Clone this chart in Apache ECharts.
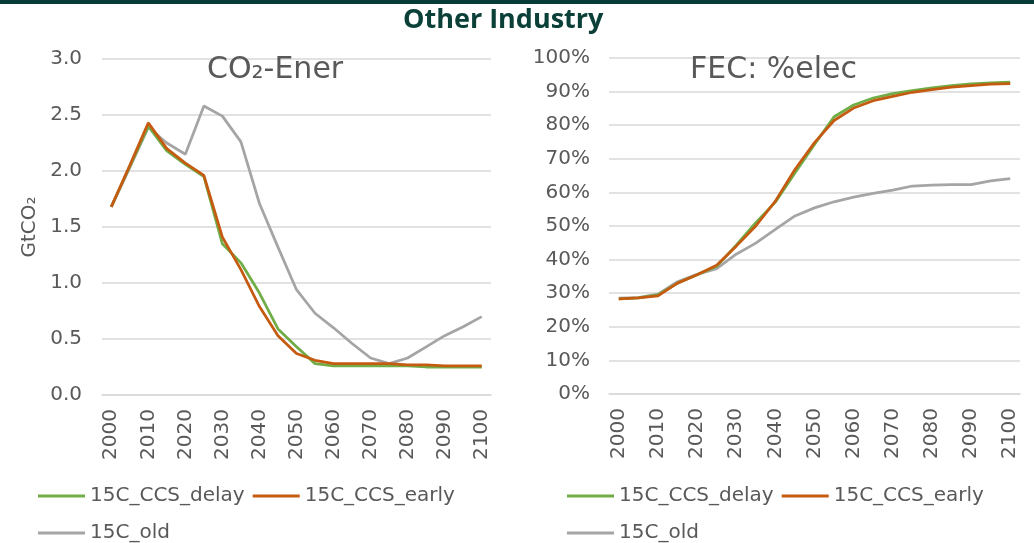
<!DOCTYPE html>
<html>
<head>
<meta charset="utf-8">
<script src="https://cdn.jsdelivr.net/npm/echarts@6/dist/echarts.min.js"></script>
<style>
  html, body { margin: 0; padding: 0; background: #fff; }
  #topbar { position: absolute; left: 0; top: 0; width: 1034px; height: 4px; background: #073b37; }
  #chart { width: 1034px; height: 543px; }
</style>
</head>
<body>
<div id="topbar"></div>
<div id="chart"></div>
<script>
// years 2000..2100 every 5 years
var years = ['2000', '2005', '2010', '2015', '2020', '2025', '2030', '2035', '2040', '2045', '2050',
  '2055', '2060', '2065', '2070', '2075', '2080', '2085', '2090', '2095', '2100'];
var seriesNames = ['15C_CCS_delay', '15C_CCS_early', '15C_old'];

// CO2-Ener, GtCO2
var co2Delay = [1.68, 2.04, 2.40, 2.18, 2.06, 1.95, 1.35, 1.18, 0.91, 0.59, 0.43,
  0.28, 0.26, 0.26, 0.26, 0.26, 0.26, 0.25, 0.25, 0.25, 0.25];
var co2Early = [1.68, 2.05, 2.43, 2.20, 2.07, 1.96, 1.41, 1.12, 0.79, 0.53, 0.37,
  0.31, 0.28, 0.28, 0.28, 0.28, 0.27, 0.27, 0.26, 0.26, 0.26];
var co2Old = [1.68, 2.03, 2.39, 2.25, 2.15, 2.58, 2.49, 2.26, 1.71, 1.32, 0.94,
  0.73, 0.60, 0.46, 0.33, 0.28, 0.33, 0.43, 0.53, 0.61, 0.70];

// FEC: %elec
var elecDelay = [28.3, 28.6, 29.5, 33.0, 35.5, 38.0, 44.3, 51.0, 57.1, 65.8, 74.3,
  82.5, 86.0, 88.1, 89.4, 90.3, 91.1, 91.8, 92.3, 92.6, 92.8];
var elecEarly = [28.3, 28.6, 29.2, 33.0, 35.5, 38.3, 44.0, 50.0, 57.4, 66.8, 74.8,
  81.4, 85.1, 87.3, 88.6, 89.8, 90.6, 91.3, 91.8, 92.2, 92.4];
var elecOld = [28.5, 28.7, 29.7, 33.4, 35.6, 37.3, 41.6, 44.9, 49.0, 53.0, 55.4,
  57.2, 58.6, 59.7, 60.7, 61.9, 62.2, 62.3, 62.3, 63.4, 64.1];

var colors = ['#70ad47', '#c55a11', '#a5a5a5'];
var font = 'DejaVu Sans';
var txt = '#595959';

function xAxis(gridIndex) {
  return {
    type: 'category', gridIndex: gridIndex, data: years, boundaryGap: true,
    axisLine: { lineStyle: { color: '#d9d9d9', width: 1.5 } },
    axisTick: { show: false },
    axisLabel: { interval: 1, rotate: 90, margin: 14, fontSize: 20, color: txt, fontFamily: font }
  };
}
function legend(left, top, names) {
  return {
    left: left, top: top, padding: 0, itemGap: 8, itemWidth: 47, itemHeight: 3, icon: 'rect',
    data: names, textStyle: { fontSize: 20, color: txt, fontFamily: font, padding: [0, 0, 0, 0] }
  };
}
function line(name, data, i, gi) {
  return {
    name: name, type: 'line', xAxisIndex: gi, yAxisIndex: gi, data: data, symbol: 'none',
    color: colors[i], lineStyle: { width: 2.75, color: colors[i] }
  };
}

var chart = echarts.init(document.getElementById('chart'));
chart.setOption({
  animation: false,
  title: [
    { text: 'Other Industry', left: 403, top: 7, padding: 0,
      textStyle: { fontFamily: 'Open Sans', fontWeight: 'bold', fontSize: 27, color: '#0b4039' } },
    { text: 'CO₂-Ener', left: 207, top: 55, padding: 0,
      textStyle: { fontFamily: font, fontWeight: 'normal', fontSize: 30, color: txt } },
    { text: 'FEC: %elec', left: 690, top: 55, padding: 0,
      textStyle: { fontFamily: font, fontWeight: 'normal', fontSize: 30, color: txt } }
  ],
  legend: [
    legend(38, 486, ['15C_CCS_delay', '15C_CCS_early']),
    legend(38, 523, ['15C_old']),
    legend(567, 486, ['15C_CCS_delay', '15C_CCS_early']),
    legend(567, 523, ['15C_old'])
  ],
  grid: [
    { left: 102, right: 543, top: 59, bottom: 148 },
    { left: 609, right: 14, top: 58, bottom: 149 }
  ],
  xAxis: [xAxis(0), xAxis(1)],
  yAxis: [
    {
      type: 'value', gridIndex: 0, min: 0, max: 3, interval: 0.5,
      name: 'GtCO₂', nameLocation: 'middle', nameGap: 62,
      nameTextStyle: { fontSize: 20, color: txt, fontFamily: font },
      axisLine: { show: false }, axisTick: { show: false },
      axisLabel: { margin: 20, fontSize: 20, color: txt, fontFamily: font,
        formatter: function (v) { return v.toFixed(1); } },
      splitLine: { lineStyle: { color: '#d9d9d9', width: 1.5 } }
    },
    {
      type: 'value', gridIndex: 1, min: 0, max: 100, interval: 10,
      axisLine: { show: false }, axisTick: { show: false },
      axisLabel: { margin: 19, fontSize: 20, color: txt, fontFamily: font, formatter: '{value}%' },
      splitLine: { lineStyle: { color: '#d9d9d9', width: 1.5 } }
    }
  ],
  series: [
    line(seriesNames[2], co2Old, 2, 0),
    line(seriesNames[0], co2Delay, 0, 0),
    line(seriesNames[1], co2Early, 1, 0),
    line(seriesNames[2], elecOld, 2, 1),
    line(seriesNames[0], elecDelay, 0, 1),
    line(seriesNames[1], elecEarly, 1, 1)
  ]
});
</script>
</body>
</html>
